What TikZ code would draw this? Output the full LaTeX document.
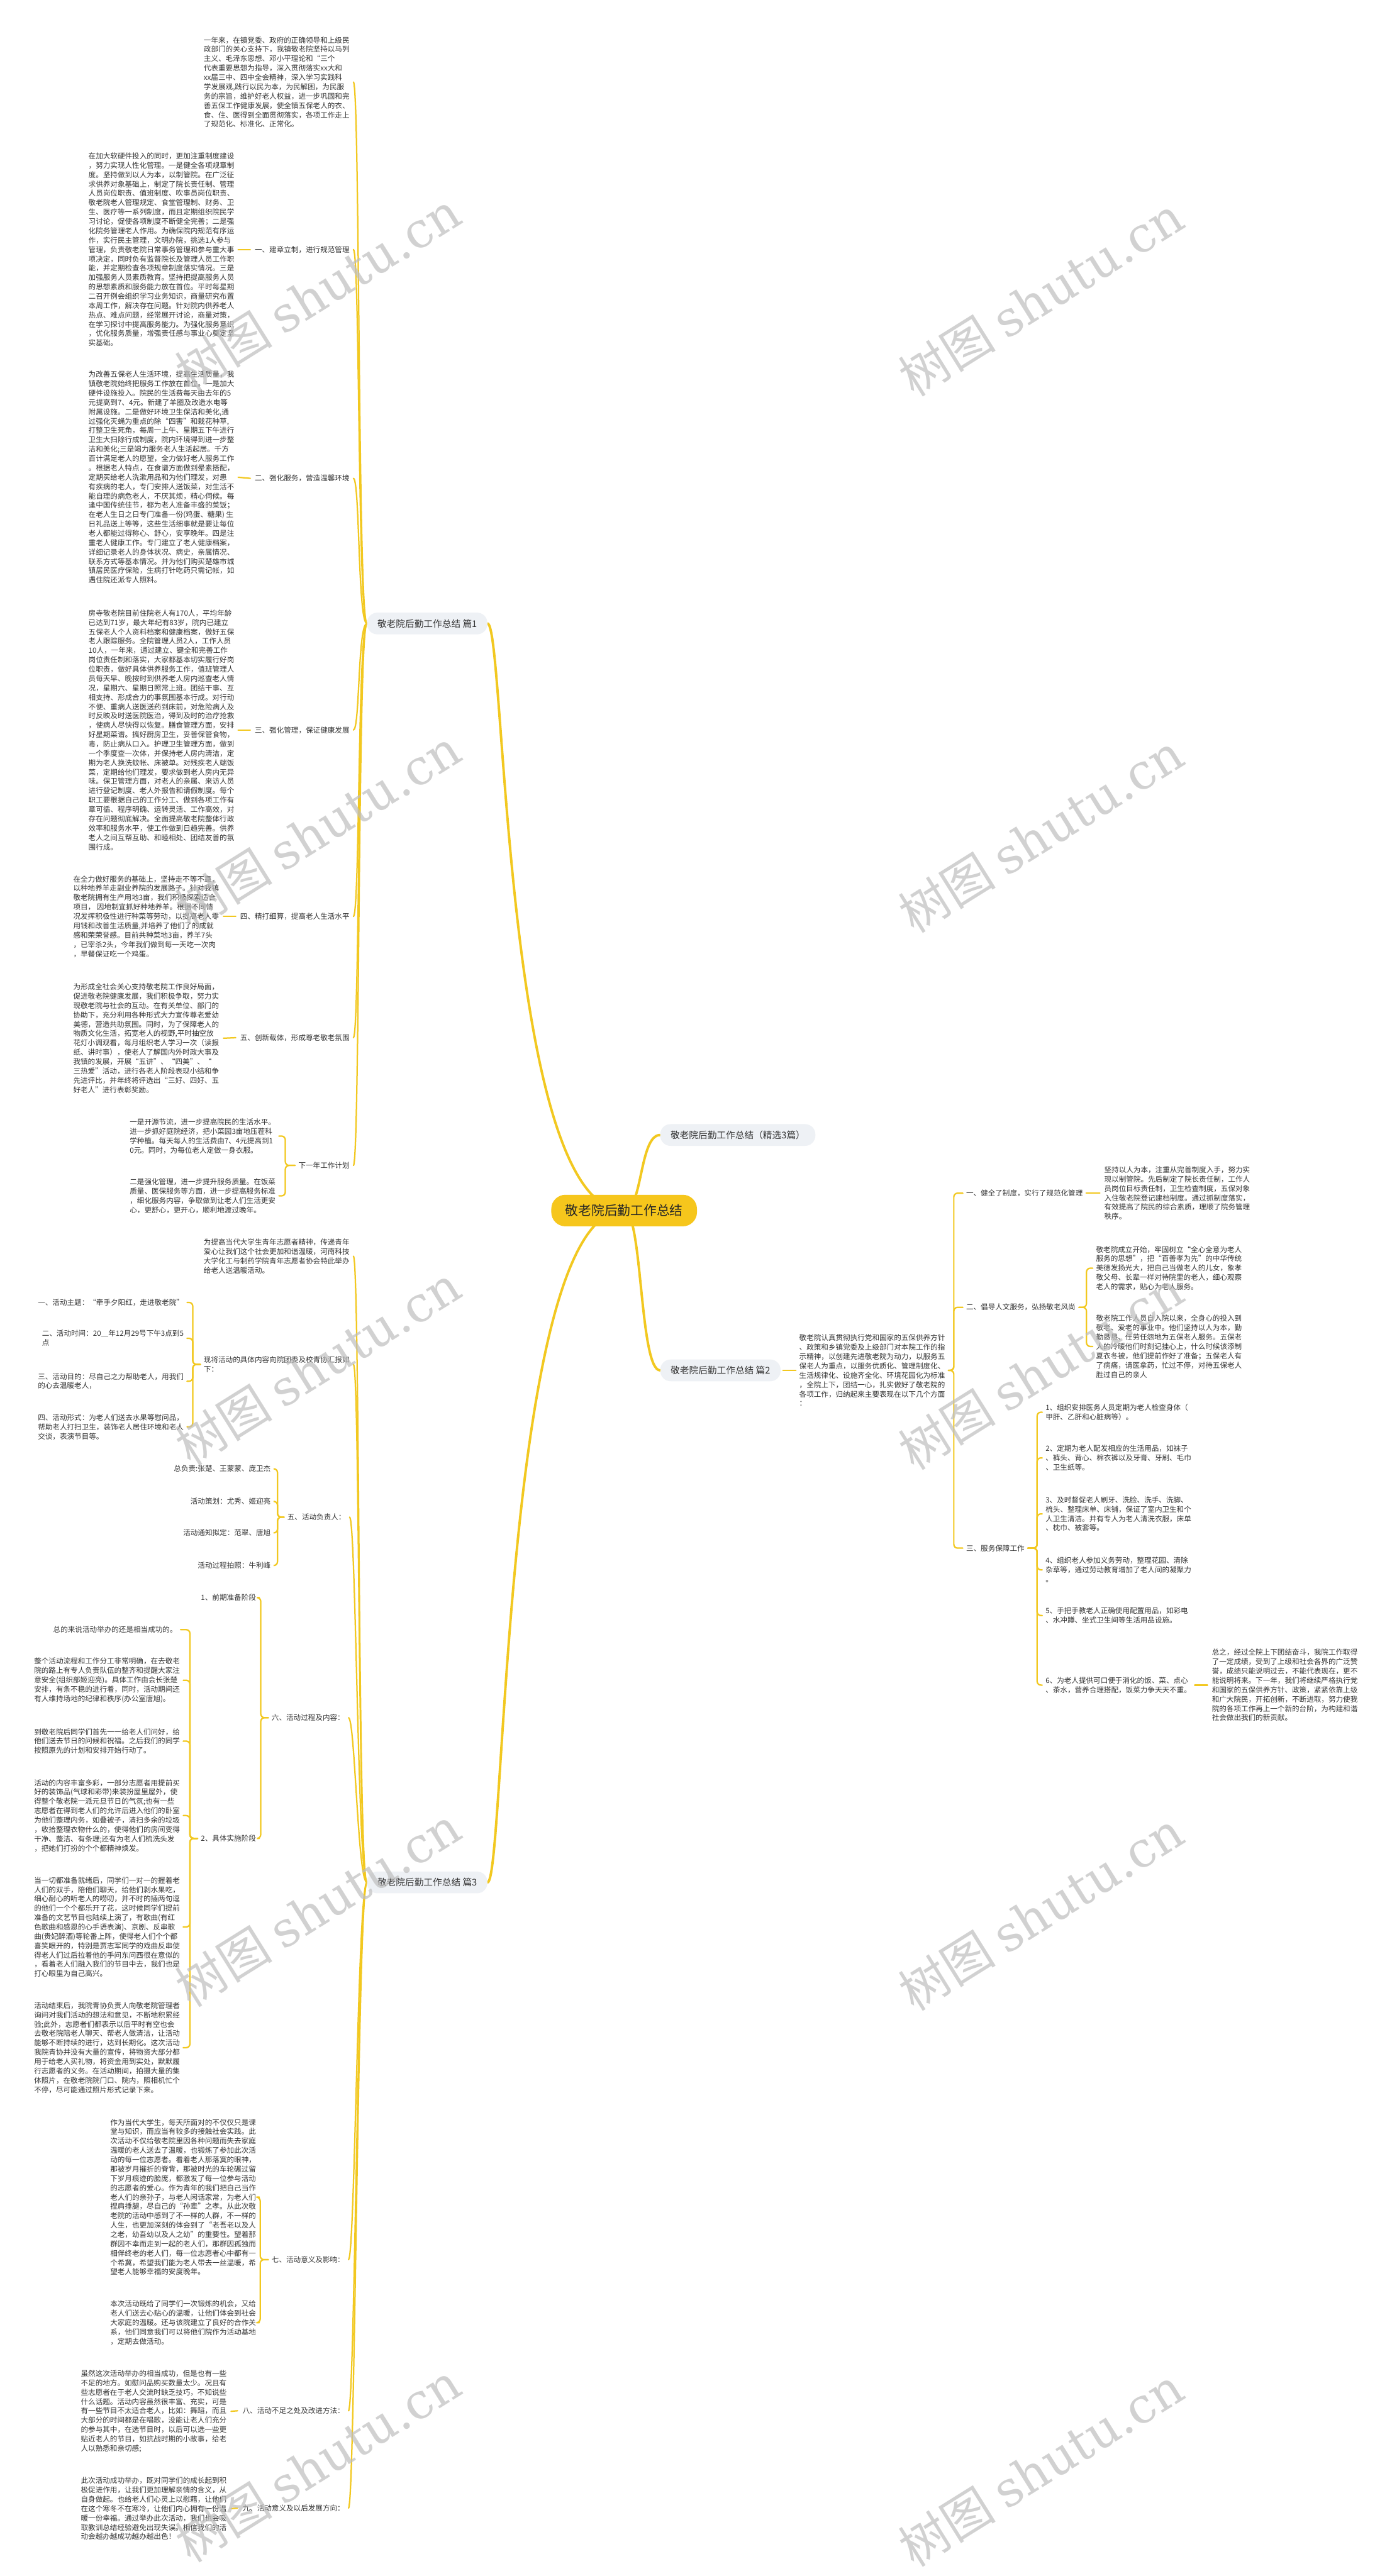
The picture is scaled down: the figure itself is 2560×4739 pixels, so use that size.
\documentclass[tikz,border=0pt]{standalone}
\usepackage{fontspec}
\setmainfont{Noto Sans CJK SC}
\newfontfamily\wmlatin{DejaVu Serif}
\usetikzlibrary{calc}
\pgfdeclarelayer{bgw}
\pgfdeclarelayer{lines}
\pgfsetlayers{bgw,lines,main}
\definecolor{gold}{RGB}{246,198,28}
\definecolor{lnk}{RGB}{242,200,32}
\definecolor{bfill}{RGB}{238,241,245}
\definecolor{txc}{RGB}{51,51,51}
\definecolor{wmc}{RGB}{190,190,190}
\begin{document}
\begin{tikzpicture}[x=1pt,y=-1pt,
  txt/.style={font=\fontsize{13.4}{17.2}\selectfont, align=left, inner sep=0pt, text=txc},
  lbl/.style={font=\fontsize{13.4}{17.2}\selectfont, inner sep=0pt, text=txc},
  br/.style={fill=bfill, rounded corners=19pt, font=\fontsize{17}{20}\selectfont, text=txc, minimum height=40pt, inner xsep=19pt, inner ysep=0pt},
  root/.style={fill=gold, rounded corners=26pt, font=\fontsize{24}{28}\selectfont, text=black!85, minimum height=58pt, inner xsep=26pt},
  ln/.style={draw=lnk, line width=2.6pt, line cap=round},
  brk/.style={draw=lnk, line width=2.6pt, line cap=round, rounded corners=7pt},
  wm/.style={rotate=32, text=wmc, opacity=0.7, font=\fontsize{90}{90}\selectfont, inner sep=0pt}
]
\begin{pgfonlayer}{bgw}
\fill[white] (0,0) rectangle (2560,4739);
\end{pgfonlayer}
\useasboundingbox (0,0) rectangle (2560,4739);

% ---------- main nodes ----------
\node[root] (root) at (1148,2227) {敬老院后勤工作总结};
\node[br, anchor=west] (p1) at (675,1147) {敬老院后勤工作总结 篇1};
\node[br, anchor=west] (p3) at (675,3463) {敬老院后勤工作总结 篇3};
\node[br, anchor=east] (pj) at (1500,2088) {敬老院后勤工作总结（精选3篇）};
\node[br, anchor=east] (p2) at (1436,2521) {敬老院后勤工作总结 篇2};

% ---------- 篇1 ----------
\node[txt, anchor=east] (b1) at (643,151) {一年来，在镇党委、政府的正确领导和上级民\\政部门的关心支持下，我镇敬老院坚持以马列\\主义、毛泽东思想、邓小平理论和“三个\\代表重要思想为指导，深入贯彻落实xx大和\\xx届三中、四中全会精神，深入学习实践科\\学发展观,践行以民为本，为民解困，为民服\\务的宗旨，维护好老人权益，进一步巩固和完\\善五保工作健康发展，使全镇五保老人的衣、\\食、住、医得到全面贯彻落实，各项工作走上\\了规范化、标准化、正常化。};

\node[lbl, anchor=east] (l1) at (643,459) {一、建章立制，进行规范管理};
\node[txt, anchor=east] (b2) at (431,459) {在加大软硬件投入的同时，更加注重制度建设\\，努力实现人性化管理。一是健全各项规章制\\度。坚持做到以人为本，以制管院。在广泛征\\求供养对象基础上，制定了院长责任制、管理\\人员岗位职责、值班制度、吹事员岗位职责、\\敬老院老人管理规定、食堂管理制、财务、卫\\生、医疗等一系列制度，而且定期组织院民学\\习讨论，促使各项制度不断健全完善；二是强\\化院务管理老人作用。为确保院内规范有序运\\作，实行民主管理，文明办院，挑选1人参与\\管理，负责敬老院日常事务管理和参与重大事\\项决定，同时负有监督院长及管理人员工作职\\能，并定期检查各项规章制度落实情况。三是\\加强服务人员素质教育。坚持把提高服务人员\\的思想素质和服务能力放在首位。平时每星期\\二召开例会组织学习业务知识，商量研究布置\\本周工作，解决存在问题。针对院内供养老人\\热点、难点问题，经常展开讨论，商量对策，\\在学习探讨中提高服务能力。为强化服务意识\\，优化服务质量，增强责任感与事业心奠定坚\\实基础。};

\node[lbl, anchor=east] (l2) at (643,880) {二、强化服务，营造温馨环境};
\node[txt, anchor=east] (b3) at (431,878) {为改善五保老人生活环境，提高生活质量，我\\镇敬老院始终把服务工作放在首位。一是加大\\硬件设施投入。院民的生活费每天由去年的5\\元提高到7、4元。新建了羊圈及改造水电等\\附属设施。二是做好环境卫生保洁和美化,通\\过强化灭蝇为重点的除“四害”和栽花种草,\\打整卫生死角，每周一上午、星期五下午进行\\卫生大扫除行成制度，院内环境得到进一步整\\洁和美化;三是竭力服务老人生活起居。千方\\百计满足老人的愿望，全力做好老人服务工作\\。根据老人特点，在食谱方面做到晕素搭配，\\定期买给老人洗漱用品和为他们理发，对患\\有疾病的老人，专门安排人送饭菜，对生活不\\能自理的病危老人，不厌其烦，精心伺候。每\\逢中国传统佳节，都为老人准备丰盛的菜饭；\\在老人生日之日专门准备一份(鸡蛋、糖果) 生\\日礼品送上等等，这些生活细事就是要让每位\\老人都能过得称心、舒心，安享晚年。四是注\\重老人健康工作。专门建立了老人健康档案，\\详细记录老人的身体状况、病史，亲属情况、\\联系方式等基本情况。并为他们购买楚雄市城\\镇居民医疗保险，生病打针吃药只需记帐，如\\遇住院还派专人照料。};

\node[lbl, anchor=east] (l3) at (643,1343) {三、强化管理，保证健康发展};
\node[txt, anchor=east] (b4) at (431,1343) {房寺敬老院目前住院老人有170人，平均年龄\\已达到71岁，最大年纪有83岁，院内已建立\\五保老人个人资料档案和健康档案，做好五保\\老人跟踪服务。全院管理人员2人，工作人员\\10人，一年来，通过建立、键全和完善工作\\岗位责任制和落实，大家都基本切实履行好岗\\位职责，做好具体供养服务工作，值班管理人\\员每天早、晚按时到供养老人房内巡查老人情\\况，星期六、星期日照常上班。团结干事、互\\相支持、形成合力的事氛围基本行成。对行动\\不便、重病人送医送药到床前，对危险病人及\\时反映及时送医院医治，得到及时的治疗抢救\\，使病人尽快得以恢复。膳食管理方面，安排\\好星期菜谱。搞好厨房卫生，妥善保管食物，\\毒，防止病从口入。护理卫生管理方面，做到\\一个季度查一次体，并保持老人房内清洁，定\\期为老人换洗蚊帐、床被单。对残疾老人端饭\\菜，定期给他们理发，要求做到老人房内无异\\味。保卫管理方面，对老人的亲属、来访人员\\进行登记制度、老人外报告和请假制度。每个\\职工要根据自己的工作分工、做到各项工作有\\章可循、程序明确、运转灵活、工作高效，对\\存在问题彻底解决。全面提高敬老院整体行政\\效率和服务水平，使工作做到日趋完善。供养\\老人之间互帮互助、和睦相处、团结友善的氛\\围行成。};

\node[lbl, anchor=east] (l4) at (643,1686) {四、精打细算，提高老人生活水平};
\node[txt, anchor=east] (b5) at (403,1686) {在全力做好服务的基础上，坚持走不等不靠，\\以种地养羊走副业养院的发展路子。针对我镇\\敬老院拥有生产用地3亩，我们积极探索适合\\项目， 因地制宜抓好种地养羊。根据不同情\\况发挥积极性进行种菜等劳动，以提高老人零\\用钱和改善生活质量,并培养了他们了的成就\\感和荣荣誉感。目前共种菜地3亩，养羊7头\\，已宰杀2头，今年我们做到每一天吃一次肉\\，早餐保证吃一个鸡蛋。};

\node[lbl, anchor=east] (l5) at (643,1909) {五、创新载体，形成尊老敬老氛围};
\node[txt, anchor=east] (b6) at (403,1910) {为形成全社会关心支持敬老院工作良好局面，\\促进敬老院健康发展，我们积极争取，努力实\\现敬老院与社会的互动。在有关单位、部门的\\协助下，充分利用各种形式大力宣传尊老爱幼\\美德，营造共助氛围。同时，为了保障老人的\\物质文化生活，拓宽老人的视野,平时抽空放\\花灯小调观看，每月组织老人学习一次（读报\\纸、讲时事），使老人了解国内外时政大事及\\我镇的发展，开展“五讲”、“四美”、“\\三热爱”活动，进行各老人阶段表现小结和争\\先进评比，并年终将评选出“三好、四好、五\\好老人”进行表彰奖励。};

\node[lbl, anchor=east] (l6) at (643,2144) {下一年工作计划};
\node[txt, anchor=east] (k1) at (507,2090) {一是开源节流，进一步提高院民的生活水平。\\进一步抓好庭院经济，把小菜园3亩地压茬科\\学种植。每天每人的生活费由7、4元提高到1\\0元。同时，为每位老人定做一身衣服。};
\node[txt, anchor=east] (k2) at (507,2200) {二是强化管理，进一步提升服务质量。在饭菜\\质量、医保服务等方面，进一步提高服务标准\\，细化服务内容，争取做到让老人们生活更安\\心，更舒心，更开心，顺利地渡过晚年。};

% ---------- 篇3 ----------
\node[txt, anchor=east] (c0) at (643,2311) {为提高当代大学生青年志愿者精神，传递青年\\爱心让我们这个社会更加和谐温暖，河南科技\\大学化工与制药学院青年志愿者协会特此举办\\给老人送温暖活动。};
\node[txt, anchor=east] (c1) at (643,2510) {现将活动的具体内容向院团委及校青协汇报如\\下：};
\node[txt, anchor=east] (d1) at (338,2396) {一、活动主题：“牵手夕阳红，走进敬老院”};
\node[txt, anchor=east] (d2) at (338,2462) {二、活动时间：20＿年12月29号下午3点到5\\点};
\node[txt, anchor=east] (d3) at (338,2541) {三、活动目的：尽自己之力帮助老人，用我们\\的心去温暖老人，};
\node[txt, anchor=east] (d4) at (338,2625) {四、活动形式：为老人们送去水果等慰问品，\\帮助老人打扫卫生，装饰老人居住环境和老人\\交谈，表演节目等。};

\node[lbl, anchor=east] (c2) at (636,2791) {五、活动负责人：};
\node[lbl, anchor=east] (e1) at (498,2702) {总负责:张楚、王蒙蒙、庞卫杰};
\node[lbl, anchor=east] (e2) at (498,2762) {活动策划：尤秀、姬迎亮};
\node[lbl, anchor=east] (e3) at (498,2820) {活动通知拟定：范翠、唐旭};
\node[lbl, anchor=east] (e4) at (498,2880) {活动过程拍照：牛利峰};

\node[lbl, anchor=east] (c3) at (634,3160) {六、活动过程及内容：};
\node[lbl, anchor=east] (f1) at (471,2939) {1、前期准备阶段};
\node[lbl, anchor=east] (f2) at (471,3382) {2、具体实施阶段};
\node[txt, anchor=east] (g0) at (326,2998) {总的来说活动举办的还是相当成功的。};
\node[txt, anchor=east] (g1) at (331,3091) {整个活动流程和工作分工非常明确，在去敬老\\院的路上有专人负责队伍的整齐和提醒大家注\\意安全(组织部姬迎亮)。具体工作由会长张楚\\安排，有条不稳的进行着，同时，活动期间还\\有人维持场地的纪律和秩序(办公室唐旭)。};
\node[txt, anchor=east] (g2) at (331,3203) {到敬老院后同学们首先一一给老人们问好，给\\他们送去节日的问候和祝福。之后我们的同学\\按照原先的计划和安排开始行动了。};
\node[txt, anchor=east] (g3) at (331,3340) {活动的内容丰富多彩，一部分志愿者用提前买\\好的装饰品(气球和彩带)来装扮屋里屋外，使\\得整个敬老院一派元旦节日的气氛;也有一些\\志愿者在得到老人们的允许后进入他们的卧室\\为他们整理内务，如叠被子，清扫多余的垃圾\\，收拾整理衣物什么的，使得他们的房间变得\\干净、整洁、有条理;还有为老人们梳洗头发\\，把她们打扮的个个都精神焕发。};
\node[txt, anchor=east] (g4) at (331,3545) {当一切都准备就绪后，同学们一对一的握着老\\人们的双手，陪他们聊天，给他们剥水果吃，\\细心耐心的听老人的唠叨，并不时的插两句逗\\的他们一个个都乐开了花，这时候同学们提前\\准备的文艺节目也陆续上演了，有歌曲(有红\\色歌曲和感恩的心手语表演)、京剧、反串歌\\曲(贵妃醉酒)等轮番上阵，使得老人们个个都\\喜笑眼开的，特别是贾志军同学的戏曲反串使\\得老人们过后拉着他的手问东问西很在意似的\\，看着老人们融入我们的节目中去，我们也是\\打心眼里为自己高兴。};
\node[txt, anchor=east] (g5) at (331,3767) {活动结束后，我院青协负责人向敬老院管理者\\询问对我们活动的想法和意见，不断地积累经\\验;此外，志愿者们都表示以后平时有空也会\\去敬老院陪老人聊天、帮老人做清洁，让活动\\能够不断持续的进行，达到长期化。这次活动\\我院青协并没有大量的宣传，将物资大部分都\\用于给老人买礼物，将资金用到实处，默默履\\行志愿者的义务。在活动期间，拍摄大量的集\\体照片，在敬老院院门口、院内，照相机忙个\\不停，尽可能通过照片形式记录下来。};

\node[lbl, anchor=east] (c4) at (634,4157) {七、活动意义及影响：};
\node[txt, anchor=east] (h1) at (471,4042) {作为当代大学生，每天所面对的不仅仅只是课\\堂与知识，而应当有较多的接触社会实践。此\\次活动不仅给敬老院里因各种问题而失去家庭\\温暖的老人送去了温暖，也锻炼了参加此次活\\动的每一位志愿者。看着老人那落寞的眼神，\\那被岁月摧折的脊背，那被时光的车轮碾过留\\下岁月痕迹的脸庞，都激发了每一位参与活动\\的志愿者的爱心。作为青年的我们把自己当作\\老人们的亲孙子，与老人闲话家常，为老人们\\捏肩捶腿，尽自己的“孙辈”之孝。从此次敬\\老院的活动中感到了不一样的人群，不一样的\\人生，也更加深刻的体会到了“老吾老以及人\\之老，幼吾幼以及人之幼”的重要性。望着那\\群因不幸而走到一起的老人们，那群因孤独而\\相伴终老的老人们，每一位志愿者心中都有一\\个希冀，希望我们能为老人带去一丝温暖，希\\望老人能够幸福的安度晚年。};
\node[txt, anchor=east] (h2) at (471,4273) {本次活动既给了同学们一次锻炼的机会，又给\\老人们送去心贴心的温暖，让他们体会到社会\\大家庭的温暖。还与该院建立了良好的合作关\\系，他们同意我们可以将他们院作为活动基地\\，定期去做活动。};

\node[lbl, anchor=east] (c5) at (634,4435) {八、活动不足之处及改进方法：};
\node[txt, anchor=east] (h3) at (417,4436) {虽然这次活动举办的相当成功，但是也有一些\\不足的地方。如慰问品购买数量太少。况且有\\些志愿者在于老人交流时缺乏技巧，不知说些\\什么话题。活动内容虽然很丰富、充实，可是\\有一些节目不太适合老人，比如：舞蹈，而且\\大部分的时间都是在唱歌，没能让老人们充分\\的参与其中，在选节目时，以后可以选一些更\\贴近老人的节目，如抗战时期的小故事，给老\\人以熟悉和亲切感;};

\node[lbl, anchor=east] (c6) at (634,4614) {九、活动意义及以后发展方向：};
\node[txt, anchor=east] (h4) at (417,4615) {此次活动成功举办，既对同学们的成长起到积\\极促进作用，让我们更加理解亲情的含义，从\\自身做起。也给老人们心灵上以慰藉，让他们\\在这个寒冬不在寒冷，让他们内心拥有一份温\\暖一份幸福。通过举办此次活动，我们也会吸\\取教训总结经验避免出现失误。相信我们的活\\动会越办越成功越办越出色！};

% ---------- 篇2 ----------
\node[txt, anchor=west] (j0) at (1470,2521) {敬老院认真贯彻执行党和国家的五保供养方针\\、政策和乡镇党委及上级部门对本院工作的指\\示精神，以创建先进敬老院为动力，以服务五\\保老人为重点，以服务优质化、管理制度化、\\生活规律化、设施齐全化、环境花园化为标准\\，全院上下，团结一心，扎实做好了敬老院的\\各项工作，归纳起来主要表现在以下几个方面\\：};
\node[lbl, anchor=west] (r1) at (1777,2195) {一、健全了制度，实行了规范化管理};
\node[txt, anchor=west] (s1) at (2031,2195) {坚持以人为本，注重从完善制度入手，努力实\\现以制管院。先后制定了院长责任制，工作人\\员岗位目标责任制，卫生检查制度，五保对象\\入住敬老院登记建档制度。通过抓制度落实，\\有效提高了院民的综合素质，理顺了院务管理\\秩序。};
\node[lbl, anchor=west] (r2) at (1777,2405) {二、倡导人文服务，弘扬敬老风尚};
\node[txt, anchor=west] (s2) at (2016,2333) {敬老院成立开始，牢固树立“全心全意为老人\\服务的思想”，把“百善孝为先”的中华传统\\美德发扬光大，把自己当做老人的儿女，象孝\\敬父母、长辈一样对待院里的老人，细心观察\\老人的需求，贴心为老人服务。};
\node[txt, anchor=west] (s3) at (2016,2477) {敬老院工作人员自入院以来，全身心的投入到\\敬老、爱老的事业中。他们坚持以人为本，勤\\勤恳恳、任劳任怨地为五保老人服务。五保老\\人的冷暖他们时刻记挂心上，什么时候该添制\\夏衣冬被，他们提前作好了准备；五保老人有\\了病痛，请医拿药，忙过不停，对待五保老人\\胜过自己的亲人};
\node[lbl, anchor=west] (r3) at (1777,2848) {三、服务保障工作};
\node[txt, anchor=west] (t1) at (1923,2598) {1、组织安排医务人员定期为老人检查身体（\\甲肝、乙肝和心脏病等）。};
\node[txt, anchor=west] (t2) at (1923,2682) {2、定期为老人配发相应的生活用品，如袜子\\、裤头、背心、棉衣裤以及牙膏、牙刷、毛巾\\、卫生纸等。};
\node[txt, anchor=west] (t3) at (1923,2785) {3、及时督促老人刷牙、洗脸、洗手、洗脚、\\梳头、整理床单、床铺，保证了室内卫生和个\\人卫生清洁。并有专人为老人清洗衣服，床单\\、枕巾、被套等。};
\node[txt, anchor=west] (t4) at (1923,2888) {4、组织老人参加义务劳动，整理花园、清除\\杂草等，通过劳动教育增加了老人间的凝聚力\\。};
\node[txt, anchor=west] (t5) at (1923,2972) {5、手把手教老人正确使用配置用品，如彩电\\、水冲蹲、坐式卫生间等生活用品设施。};
\node[txt, anchor=west] (t6) at (1923,3100) {6、为老人提供可口便于消化的饭、菜、点心\\、茶水，营养合理搭配，饭菜力争天天不重。};
\node[txt, anchor=west] (z1) at (2229,3100) {总之，经过全院上下团结奋斗，我院工作取得\\了一定成绩，受到了上级和社会各界的广泛赞\\誉，成绩只能说明过去，不能代表现在，更不\\能说明将来。下一年，我们将继续严格执行党\\和国家的五保供养方针、政策，紧紧依靠上级\\和广大院民，开拓创新，不断进取，努力使我\\院的各项工作再上一个新的台阶，为构建和谐\\社会做出我们的新贡献。};

% ---------- connectors ----------
\begin{pgfonlayer}{lines}
\draw[ln, line width=4.5pt] (root.center) .. controls (925,2227) and (930,1147) .. (p1.east);
\draw[ln, line width=4.5pt] (root.center) .. controls (925,2227) and (930,3463) .. (p3.east);
\draw[ln, line width=4.5pt] (root.center) .. controls (1182,2227) and (1176,2088) .. (pj.west);
\draw[ln, line width=4.5pt] (root.center) .. controls (1182,2227) and (1176,2521) .. (p2.west);

\foreach \n in {b1,l1,l2,l3,l4,l5,l6}
  \draw[ln] (p1.west) .. controls +(-17,0) and +(12,0) .. ($(\n.east)+(7,0)$);
\foreach \n in {c0,c1,c2,c3,c4,c5,c6}
  \draw[ln] (p3.west) .. controls +(-17,0) and +(12,0) .. ($(\n.east)+(7,0)$);

\draw[ln] ($(b2.east)+(7,0)$) -- ($(l1.west)+(-8,0)$);
\draw[ln] ($(b3.east)+(7,0)$) -- ($(l2.west)+(-8,0)$);
\draw[ln] ($(b4.east)+(7,0)$) -- ($(l3.west)+(-8,0)$);
\draw[ln] ($(b5.east)+(8,0)$) -- ($(l4.west)+(-8,0)$);
\draw[ln] ($(b6.east)+(8,0)$) -- ($(l5.west)+(-8,0)$);
\foreach \n in {k1,k2}
  \draw[brk] ($(l6.west)+(-6,0)$) -- ++(-18,0) |- ($(\n.east)+(6,0)$);

\foreach \n in {d1,d2,d3,d4}
  \draw[brk] ($(c1.west)+(-6,0)$) -- ++(-14,0) |- ($(\n.east)+(6,0)$);
\foreach \n in {e1,e2,e3,e4}
  \draw[brk] ($(c2.west)+(-6,0)$) -- ++(-12,0) |- ($(\n.east)+(6,0)$);
\foreach \n in {f1,f2}
  \draw[brk] ($(c3.west)+(-6,0)$) -- ++(-14,0) |- ($(\n.east)+(6,0)$);
\foreach \n in {g0,g1,g2,g3,g4,g5}
  \draw[brk] ($(f2.west)+(-6,0)$) -- ++(-14,0) |- ($(\n.east)+(6,0)$);
\foreach \n in {h1,h2}
  \draw[brk] ($(c4.west)+(-6,0)$) -- ++(-15,0) |- ($(\n.east)+(6,0)$);
\draw[ln] ($(h3.east)+(8,0)$) -- ($(c5.west)+(-9,0)$);
\draw[ln] ($(h4.east)+(8,0)$) -- ($(c6.west)+(-9,0)$);

\draw[ln] ($(p2.east)+(4,0)$) -- ($(j0.west)+(-6,0)$);
\foreach \n in {r1,r2,r3}
  \draw[brk] ($(j0.east)+(6,0)$) -- ++(10,0) |- ($(\n.west)+(-6,0)$);
\draw[ln] ($(r1.east)+(6,0)$) -- ($(s1.west)+(-8,0)$);
\foreach \n in {s2,s3}
  \draw[brk] ($(r2.east)+(6,0)$) -- ++(14,0) |- ($(\n.west)+(-6,0)$);
\foreach \n in {t1,t2,t3,t4,t5,t6}
  \draw[brk] ($(r3.east)+(6,0)$) -- ++(17,0) |- ($(\n.west)+(-6,0)$);
\draw[ln] ($(t6.east)+(6,0)$) -- ($(z1.west)+(-8,0)$);
\end{pgfonlayer}

% ---------- watermarks ----------
\foreach \i/\x/\y in {1/585/537,2/1915/545,3/585/1525,4/1915/1533,5/585/2512,6/1915/2520,7/585/3508,8/1915/3516,9/585/4530,10/1915/4538}
  \node[wm] (wm\i) at (\x,\y) {树图 {\wmlatin shutu.cn}};
\end{tikzpicture}
\end{document}
